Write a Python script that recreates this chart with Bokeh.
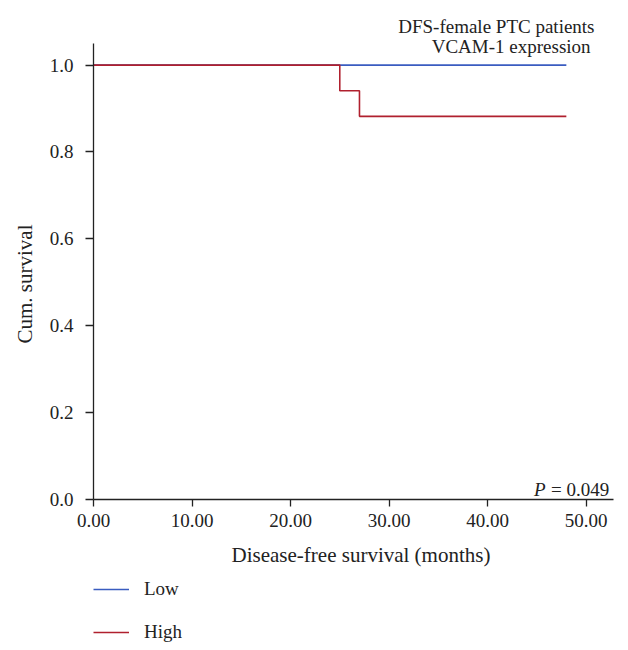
from bokeh.plotting import figure
from bokeh.layouts import column
from bokeh.models import (Legend, LegendItem, Label, FixedTicker, NumeralTickFormatter,
                          Range1d, Title)
from bokeh.embed import file_html
from bokeh.resources import INLINE

# Data (Kaplan-Meier steps)
low_time = [0.0, 48.0]
low_surv = [1.0, 1.0]
high_time = [0.0, 25.0, 27.0, 48.0]
high_surv = [1.0, 0.941, 0.882, 0.882]

x_ticks = [0, 10, 20, 30, 40, 50]
y_ticks = [0.0, 0.2, 0.4, 0.6, 0.8, 1.0]

title_lines = ["DFS-female PTC patients", "VCAM-1 expression"]
p_text = "= 0.049"
group_labels = ["Low", "High"]

FONT = "Liberation Serif"
FS = "19px"
FS_AX = "21px"
BLUE = "#3a5cc0"
RED = "#b0202e"
AX = "#222222"

p = figure(width=628, height=570, output_backend="svg", toolbar_location=None,
           x_range=Range1d(0, 54.31), y_range=Range1d(0, 1.1487),
           min_border_left=92, min_border_right=0, min_border_top=0, min_border_bottom=71,
           title=None)
p.outline_line_color = None
p.grid.visible = False
p.background_fill_color = "white"
p.border_fill_color = "white"

r_low = p.step(low_time, low_surv, mode="after", line_color=BLUE, line_width=1.6)
r_high = p.step(high_time, high_surv, mode="after", line_color=RED, line_width=1.6)

xa = p.xaxis[0]
xa.bounds = (0, 52.76)
xa.ticker = FixedTicker(ticks=x_ticks)
xa.formatter = NumeralTickFormatter(format="0.00")
xa.minor_tick_line_color = None
xa.major_tick_in = 0
xa.major_tick_out = 7
xa.major_label_standoff = 7
xa.axis_label = "Disease-free survival (months)"
xa.axis_label_standoff = 13
xa.axis_label_text_font = FONT
xa.axis_label_text_font_size = FS_AX
xa.axis_label_text_font_style = "normal"
xa.axis_label_text_color = AX
xa.major_label_text_font = FONT
xa.major_label_text_font_size = FS
xa.major_label_text_color = AX
xa.axis_line_color = AX
xa.axis_line_width = 1.3
xa.major_tick_line_color = AX
xa.major_tick_line_width = 1.3

ya = p.yaxis[0]
ya.bounds = (0, 1.0506)
ya.ticker = FixedTicker(ticks=y_ticks)
ya.formatter = NumeralTickFormatter(format="0.0")
ya.minor_tick_line_color = None
ya.major_tick_in = 0
ya.major_tick_out = 8
ya.major_label_standoff = 12
ya.major_label_text_font = FONT
ya.major_label_text_font_size = FS
ya.major_label_text_color = AX
ya.axis_line_color = AX
ya.axis_line_width = 1.3
ya.major_tick_line_color = AX
ya.major_tick_line_width = 1.3

# Y-axis title as a side title, starting a little above the frame bottom
p.add_layout(Title(text="Cum. survival", align="left", offset=156, standoff=20,
                   text_font=FONT, text_font_size=FS_AX, text_font_style="normal",
                   text_color=AX), "left")

# Title lines (right aligned, top right)
p.add_layout(Label(x=50.86, y=1.088, text=title_lines[0], text_align="right",
                   text_baseline="alphabetic", text_font=FONT, text_font_size=FS,
                   text_color=AX))
p.add_layout(Label(x=50.46, y=1.042, text=title_lines[1], text_align="right",
                   text_baseline="alphabetic", text_font=FONT, text_font_size=FS,
                   text_color=AX))

# P value
p.add_layout(Label(x=46.45, y=0.0223, text=p_text, text_align="left",
                   text_baseline="alphabetic", text_font=FONT, text_font_size=FS,
                   text_color=AX))
p.add_layout(Label(x=45.9, y=0.0223, text="P", text_align="right",
                   text_baseline="alphabetic", text_font=FONT, text_font_size=FS,
                   text_font_style="italic", text_color=AX))

# Legend in a strip below the chart (its renderers lie outside this strip's view)
p2 = figure(width=628, height=80, output_backend="svg", toolbar_location=None,
            x_range=Range1d(0, 1), y_range=Range1d(10, 11), min_border=0, title=None)
p2.axis.visible = False
p2.grid.visible = False
p2.outline_line_color = None
p2.background_fill_color = "white"
p2.border_fill_color = "white"
l_low = p2.step(low_time, low_surv, mode="after", line_color=BLUE, line_width=1.6)
l_high = p2.step(high_time, high_surv, mode="after", line_color=RED, line_width=1.6)

legend = Legend(items=[LegendItem(label=group_labels[0], renderers=[l_low]),
                       LegendItem(label=group_labels[1], renderers=[l_high])],
                orientation="vertical", location=(0, 7),
                border_line_color=None, background_fill_alpha=0,
                padding=0, margin=0, spacing=21,
                glyph_width=36, glyph_height=20, label_height=20,
                label_standoff=15, label_text_font=FONT, label_text_font_size=FS,
                label_text_color=AX)
p2.add_layout(legend, "center")

layout = column(p, p2, spacing=0)
open("out.html", "w").write(file_html(layout, INLINE))
